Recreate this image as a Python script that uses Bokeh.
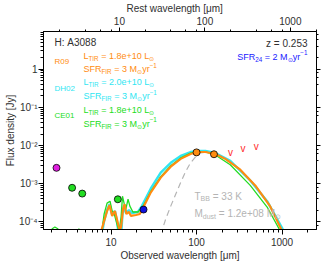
import math
from bokeh.plotting import figure
from bokeh.models import (Range1d, LogAxis, LogTicker, CustomJSTickFormatter,
                          PrintfTickFormatter, Label, Title, LogScale)
from bokeh.core.properties import value
from bokeh.embed import file_html
from bokeh.resources import INLINE

# ---------------- data ----------------
z_source = 0.253

r09_wave = [7.25, 8.3, 8.98, 9.6, 10.3, 11.1, 11.7, 12.6, 13.1, 13.8, 14.4, 15.1, 16.2,
            17.1, 19.5, 21.7, 24.2, 29.2, 38.1, 49.9, 65.2, 85.1, 102.7, 127, 166, 217,
            325, 486, 725, 973, 1054]
r09_flux = [3.65e-5, 1.06e-4, 1.92e-4, 2.74e-4, 1.43e-4, 1.92e-4, 1.19e-4, 5.9e-5, 7.4e-5,
            2.16e-4, 2.91e-4, 1.61e-4, 1.81e-4, 1.43e-4, 1.51e-4, 1.61e-4, 2.58e-4, 5.93e-4,
            1.44e-3, 2.78e-3, 4.46e-3, 6.0e-3, 6.76e-3, 6.76e-3, 6.0e-3, 4.46e-3, 2.32e-3,
            9.0e-4, 2.58e-4, 6.6e-5, 4.6e-5]

dh02_wave = [7.66, 8.3, 8.98, 9.6, 10.3, 11.1, 11.7, 12.4, 13.1, 13.6, 14.2, 14.9, 16.2,
             17.5, 20.6, 22.9, 25.5, 29.2, 38.1, 49.9, 65.2, 85.1, 102.7, 127, 166, 248,
             425, 670, 1000, 1083]
dh02_flux = [3.65e-5, 1.06e-4, 2.04e-4, 2.91e-4, 1.51e-4, 1.92e-4, 1.06e-4, 4.1e-5, 4.1e-5,
             1.61e-4, 2.74e-4, 1.71e-4, 2.04e-4, 1.71e-4, 1.81e-4, 2.58e-4, 4.16e-4, 7.5e-4,
             1.95e-3, 3.52e-3, 5.33e-3, 6.76e-3, 7.18e-3, 7.18e-3, 6.37e-3, 3.96e-3, 1.21e-3,
             3.48e-4, 7.0e-5, 4.6e-5]

ce01_wave = [1.9, 2.05, 2.2, 2.38, 2.55, 3.95, 4.2, 4.45, 7.66, 8.3, 8.98, 9.73, 10.3, 10.8,
             11.7, 12.4, 13.1, 13.6, 14.2, 14.9, 15.8, 16.6, 18.0, 20.6, 22.9, 25.5, 29.2,
             38.1, 49.9, 65.2, 85.1, 102.7, 127, 166, 248, 425, 670, 948, 1028]
ce01_flux = [5.0e-5, 6.6e-5, 7.3e-5, 6.6e-5, 5.0e-5, 5.0e-5, 6.6e-5, 5.0e-5, 4.1e-5, 1.61e-4,
             3.09e-4, 3.48e-4, 1.92e-4, 1.71e-4, 8.9e-5, 5.5e-5, 1.35e-4, 4.68e-4, 3.09e-4,
             2.16e-4, 3.92e-4, 2.58e-4, 1.81e-4, 1.81e-4, 2.30e-4, 3.48e-4, 6.3e-4, 1.53e-3,
             2.94e-3, 4.73e-3, 6.37e-3, 6.76e-3, 6.76e-3, 5.66e-3, 3.13e-3, 9.0e-4, 2.44e-4,
             5.9e-5, 4.1e-5]

bb_wave = [38.1, 43.6, 49.9, 57.0, 65.2, 74.5, 85.1, 97.3, 111, 134, 166, 217, 325, 486,
           725, 1000, 1083]
bb_flux = [4.6e-5, 1.19e-4, 2.58e-4, 5.27e-4, 1.07e-3, 2.06e-3, 3.52e-3, 5.02e-3, 6.37e-3,
           6.76e-3, 6.0e-3, 4.46e-3, 2.32e-3, 9.0e-4, 2.58e-4, 6.6e-5, 4.6e-5]

nir_wave = [2.3]
nir_flux = [2.6e-3]
irac_wise_wave = [3.5, 4.6, 12.0]
irac_wise_flux = [7.8e-4, 5.5e-4, 3.9e-4]
mips_wave = [24.0]
mips_flux = [2.1e-4]
pacs_wave = [100.0, 160.0]
pacs_flux = [6.6e-3, 5.9e-3]
ul_wave = [250.0, 350.0, 500.0]
ul_flux = [6.5e-3, 8.1e-3, 9.7e-3]

# ---------------- figure ----------------
FONT = "Liberation Sans"
X0, X1 = 1.62, 2533.0
Y0, Y1 = 6.3e-5, 9.7
W, H = 324, 263
FL, FR, FT, FB = 43, 316, 30, 231

ORANGE = "#ff8c10"
CYAN = "#30e6f2"
GREEN = "#22dd22"
GRAY = "#b4b4b4"
DARK = "#303030"
NB = "\u00a0"

p = figure(width=W, height=H, x_axis_type="log", y_axis_type="log",
           x_range=Range1d(X0, X1), y_range=Range1d(Y0, Y1),
           output_backend="svg", toolbar_location=None, title=None,
           min_border_left=FL, min_border_right=W - FR,
           min_border_top=FT, min_border_bottom=H - FB)
p.xgrid.visible = False
p.ygrid.visible = False
p.outline_line_color = "black"
p.background_fill_color = "white"
p.border_fill_color = "white"

def style_axis(ax, tick_out=5, minor_out=3, size="10px"):
    ax.axis_line_color = "black"
    ax.major_tick_line_color = "black"
    ax.minor_tick_line_color = "black"
    ax.major_tick_in = 0
    ax.major_tick_out = tick_out
    ax.minor_tick_in = 0
    ax.minor_tick_out = minor_out
    ax.major_label_text_font = FONT
    ax.major_label_text_font_size = size
    ax.major_label_text_color = DARK
    ax.axis_label_text_font = FONT
    ax.axis_label_text_font_size = "10px"
    ax.axis_label_text_font_style = "normal"
    ax.axis_label_text_color = DARK

# bottom axis
xb = p.xaxis[0]
style_axis(xb)
xb.formatter = PrintfTickFormatter(format="%d")
xb.major_label_standoff = 3
xb.axis_label = "Observed wavelength [μm]"
xb.axis_label_standoff = 1

# left axis
yl = p.yaxis[0]
style_axis(yl)
yl.formatter = CustomJSTickFormatter(code="""
const e = Math.round(Math.log10(tick));
if (e == 0) return "1";
const sup = {"-": "\u207b", "0": "\u2070", "1": "\u00b9", "2": "\u00b2", "3": "\u00b3", "4": "\u2074"};
return "10" + String(e).split("").map(c => sup[c]).join("");
""")
yl.major_label_standoff = 1
yl.axis_label = "Flux density [Jy]"
yl.axis_label_standoff = 0

# right axis (no labels)
yr = LogAxis(ticker=LogTicker(), formatter=CustomJSTickFormatter(code="return ''"))
style_axis(yr, tick_out=4, minor_out=2)
p.add_layout(yr, "right")

# top axis: rest wavelength
p.extra_x_ranges = {"rest": Range1d(X0 / (1 + z_source), X1 / (1 + z_source))}
p.extra_x_scales = {"rest": LogScale()}
xt = LogAxis(x_range_name="rest", formatter=PrintfTickFormatter(format="%d"))
style_axis(xt, tick_out=4, minor_out=2)
xt.major_label_standoff = 3
p.add_layout(xt, "above")
p.add_layout(Title(text="Rest wavelength [μm]", align="left", offset=83,
                   text_font=FONT, text_font_size="10px", text_font_style="normal",
                   text_color=DARK, standoff=0), "above")

# ---------------- curves ----------------
p.line(bb_wave, bb_flux, line_color=GRAY, line_width=1.2, line_dash="6 4")
p.line(dh02_wave, dh02_flux, line_color=CYAN, line_width=2.4)
p.line(ce01_wave, ce01_flux, line_color=GREEN, line_width=1.3)
p.line(r09_wave, r09_flux, line_color=ORANGE, line_width=2.2)

# ---------------- photometry ----------------
p.scatter(nir_wave, nir_flux, size=7, fill_color="#e020e0", line_color="black", line_width=0.8)
p.scatter(irac_wise_wave, irac_wise_flux, size=7, fill_color=GREEN, line_color="black", line_width=0.8)
p.scatter(mips_wave, mips_flux, size=7, fill_color="#1010e0", line_color="black", line_width=0.8)
p.scatter(pacs_wave, pacs_flux, size=7, fill_color=ORANGE, line_color="black", line_width=0.8)
p.text(ul_wave, ul_flux, text=["v"] * len(ul_wave), text_align="center", text_baseline="middle",
       text_color="#ff2a2a", text_font=value(FONT), text_font_size="10px")

# ---------------- annotations ----------------
LX0, LX1 = math.log10(X0), math.log10(X1)
LY0, LY1 = math.log10(Y0), math.log10(Y1)

def at(px, py):
    x = 10 ** (LX0 + (px - FL) / (FR - FL) * (LX1 - LX0))
    y = 10 ** (LY1 - (py - FT) / (FB - FT) * (LY1 - LY0))
    return x, y

WID = {' ': 278, NB: 278, '+': 584, '-': 333, '\u2212': 584, '.': 278, '=': 584, ':': 278,
       'A': 667, 'B': 667, 'C': 722, 'D': 722, 'E': 667, 'F': 611, 'H': 722, 'I': 278,
       'K': 667, 'L': 556, 'M': 833, 'R': 722, 'S': 667, 'T': 611, 'd': 556, 'e': 556,
       'r': 333, 's': 500, 't': 278, 'u': 556, 'y': 500, 'z': 500, '\u2299': 838}

def twidth(s, size):
    return sum(WID.get(c, 556) for c in s) * size / 1000.0

def rich(px, py, parts, color, size, align="left"):
    sub = size * 0.7
    parts = [(t.replace(" ", NB), m) for t, m in parts]
    total = sum(twidth(t, sub if m else size) for t, m in parts)
    off = -total if align == "right" else 0.0
    ax, ay = at(px, py)
    for t, m in parts:
        fs = sub if m else size
        dy = -2.5 if m == "b" else (4.0 if m == "p" else 0.0)
        p.add_layout(Label(x=ax, y=ay, x_offset=off, y_offset=dy, text=t,
                           text_font=FONT, text_font_size=f"{fs:.1f}px", text_color=color,
                           text_baseline="alphabetic", text_align="left"))
        off += twidth(t, fs)

SUN = "\u2299"
rich(54, 41, [("H: A3088", "")], DARK, 10)
rich(307, 42, [("z = 0.253", "")], DARK, 10, align="right")
rich(307, 55.5, [("SFR", ""), ("24", "b"), (" = 2 M", ""), (SUN, "b"), ("yr", ""), ("\u22121", "p")],
     "#2020ff", 9, align="right")

blocks = [("R09", "1.8e+10", "3", ORANGE, 54.5),
          ("DH02", "2.0e+10", "3", CYAN, 81.5),
          ("CE01", "1.8e+10", "3", GREEN, 109.5)]
for name, ltir, sfr, col, base in blocks:
    rich(54, base + 6, [(name, "")], col, 8)
    rich(83, base, [("L", ""), ("TIR", "b"), (f" = {ltir} L", ""), (SUN, "b")], col, 9)
    rich(83, base + 14, [("SFR", ""), ("FIR", "b"), (f" = {sfr} M", ""), (SUN, "b"),
                         ("yr", ""), ("\u22121", "p")], col, 9)

rich(194, 197, [("T", ""), ("BB", "b"), (" = 33 K", "")], GRAY, 10)
rich(194, 215, [("M", ""), ("dust", "b"), (" = 1.2e+08 M", ""), (SUN, "b")], GRAY, 10)

open("out.html", "w").write(file_html(p, INLINE))
